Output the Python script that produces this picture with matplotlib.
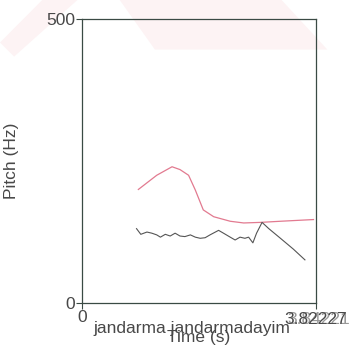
import matplotlib
matplotlib.use("Agg")
import matplotlib.pyplot as plt
from matplotlib.patches import Polygon

plt.rcParams['font.family'] = ['Liberation Sans', 'DejaVu Sans']

# pitch track (red)
t_red = [0.92, 1.22, 1.47, 1.60, 1.74, 1.85, 1.98, 2.15, 2.42, 2.64, 2.91, 3.24, 3.78]
f_red = [200, 225, 240, 235, 225, 199, 164, 152, 144, 141, 142, 144, 147]

# second track (gray)
t_blk = [0.89, 0.96, 1.06, 1.14, 1.22, 1.28, 1.36, 1.44, 1.52, 1.60, 1.68, 1.77,
         1.85, 1.93, 2.01, 2.09, 2.23, 2.31, 2.42, 2.50, 2.58, 2.66, 2.72, 2.79,
         2.85, 2.94, 3.05, 3.24, 3.45, 3.64]
f_blk = [131, 121, 125, 123, 120, 116, 121, 118, 123, 118, 117, 120,
         116, 114, 115, 120, 128, 123, 116, 111, 116, 114, 116, 106,
         123, 142, 131, 114, 95, 76]

t_max = 3.82227
f_max = 500
fs = 12.5
grey = '#484848'

fig = plt.figure(figsize=(3.52, 3.54), dpi=100)

# faint pink watermark at the top
for pts in ([(0.0, 0.88), (0.12, 1.0), (0.22, 1.0), (0.04, 0.84)],
            [(0.34, 1.0), (0.44, 0.86), (0.93, 0.86), (0.80, 1.0)]):
    fig.patches.append(Polygon(pts, closed=True, transform=fig.transFigure,
                               facecolor='#fdf3f4', edgecolor='none', zorder=-5))

ax = fig.add_axes([0.233, 0.144, 0.665, 0.802])
ax.patch.set_alpha(0)
ax.plot(t_red, f_red, color='#e27a90', lw=0.9)
ax.plot(t_blk, f_blk, color='#555555', lw=0.8)

ax.set_xlim(0, t_max)
ax.set_ylim(0, f_max)
for s in ax.spines.values():
    s.set_color('#3a4a44')
    s.set_linewidth(0.9)

ax.set_yticks([0, f_max])
ax.set_yticklabels(['0', '500'], fontsize=fs, color=grey)
ax.set_xticks([0, t_max])
ax.set_xticklabels(['0', ''], fontsize=fs, color=grey)
ax.tick_params(axis='both', length=4, width=0.8, color='#3a4a44', pad=1)

ax.text(t_max, -0.03, '3.82227', transform=ax.get_xaxis_transform(),
        ha='center', va='top', fontsize=fs, color=grey)
ax.text(t_max + 0.04, -0.03, '3.84221', transform=ax.get_xaxis_transform(),
        ha='center', va='top', fontsize=fs, color='#555555', alpha=0.6)

ax.text(0.47, -0.065, 'jandarma jandarmadayim', transform=ax.transAxes,
        ha='center', va='top', fontsize=fs, color=grey)
ax.set_xlabel('Time (s)', fontsize=fs, color=grey)
ax.xaxis.set_label_coords(0.5, -0.095)
ax.xaxis.label.set_va('top')
ax.set_ylabel('Pitch (Hz)', fontsize=fs, color=grey)
ax.yaxis.set_label_coords(-0.27, 0.5)

fig.savefig('out.png', dpi=100)
